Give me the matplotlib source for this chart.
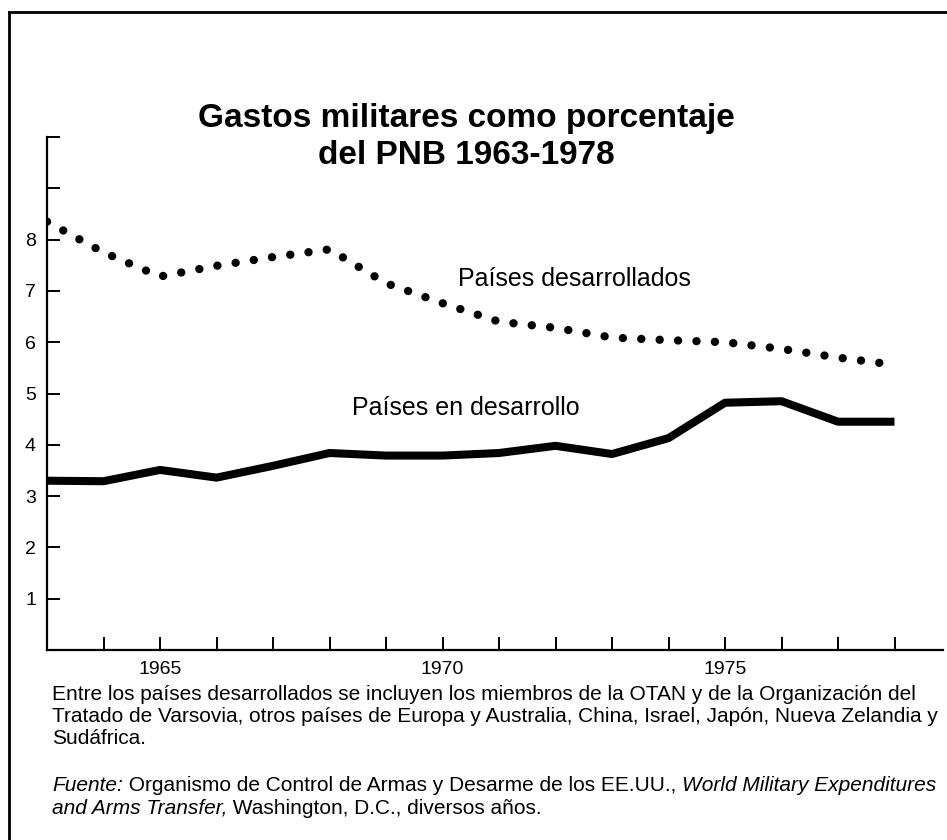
import numpy as np
import matplotlib
matplotlib.use("Agg")
import matplotlib.pyplot as plt
from matplotlib.lines import Line2D

plt.rcParams['font.family'] = ['Liberation Sans', 'DejaVu Sans']

# datos (porcentaje del PNB)
years = np.arange(1963, 1979)
desarrollados = [8.35, 7.75, 7.28, 7.49, 7.66, 7.81, 7.15, 6.76,
                 6.40, 6.28, 6.09, 6.04, 6.00, 5.87, 5.70, 5.56]
en_desarrollo = [3.30, 3.29, 3.51, 3.36, 3.59, 3.84, 3.79, 3.79,
                 3.84, 3.98, 3.82, 4.13, 4.82, 4.85, 4.45, 4.45]
year_ticks = list(range(1964, 1979))
year_labels = ['1965', '1970', '1975']
y_ticks = list(range(1, 11))
y_labels = ['1', '2', '3', '4', '5', '6', '7', '8', '', '']

fig = plt.figure(figsize=(9.47, 8.4), dpi=100)
ax = fig.add_axes([47/947, 1 - 650/840, (943 - 47)/947, (650 - 137)/840])

ax.plot(years, desarrollados, color='black', lw=6.0,
        linestyle=(0, (0.01, 2.2)), dash_capstyle='round')
ax.plot(years, en_desarrollo, color='black', lw=5.8, solid_joinstyle='round',
        solid_capstyle='butt')

ax.set_xlim(1963, 1963 + (943 - 47)/56.5)
ax.set_ylim(0, 10)
for s in ['top', 'right']:
    ax.spines[s].set_visible(False)
for s in ['left', 'bottom']:
    ax.spines[s].set_linewidth(1.6)

ax.set_xticks(year_ticks)
ax.set_xticklabels([str(y) if str(y) in year_labels else '' for y in year_ticks])
ax.set_yticks(y_ticks)
ax.set_yticklabels(y_labels)
ax.tick_params(axis='both', direction='in', length=9.5, width=1.4, labelsize=14)
ax.tick_params(axis='x', pad=8)
ax.tick_params(axis='y', pad=8)

ax.text(1970.27, 7.10, 'Países desarrollados', fontsize=18, va='baseline')
ax.text(1968.4, 4.58, 'Países en desarrollo', fontsize=18, va='baseline')

fig.text(466/947, 1 - 137/840, 'Gastos militares como porcentaje\ndel PNB 1963-1978',
         ha='center', va='center', fontsize=24, fontweight='bold', linespacing=1.29)

# nota al pie
x0 = 52/947
fs = 15
fig.text(x0, 1 - 700/840, 'Entre los países desarrollados se incluyen los miembros de la OTAN y de la Organización del',
         fontsize=fs, va='baseline')
fig.text(x0, 1 - 722/840, 'Tratado de Varsovia, otros países de Europa y Australia, China, Israel, Japón, Nueva Zelandia y',
         fontsize=fs, va='baseline')
fig.text(x0, 1 - 744/840, 'Sudáfrica.', fontsize=fs, va='baseline')


def segments(y, parts):
    prev = None
    for txt, style in parts:
        if prev is None:
            prev = fig.text(x0, y, txt, fontsize=fs, style=style, va='baseline')
        else:
            prev = ax.annotate(txt, xy=(1, 0), xycoords=prev, fontsize=fs,
                               style=style, va='bottom', ha='left',
                               annotation_clip=False)


segments(1 - 791/840, [('Fuente:', 'italic'),
                       (' Organismo de Control de Armas y Desarme de los EE.UU., ', 'normal'),
                       ('World Military Expenditures', 'italic')])
segments(1 - 814/840, [('and Arms Transfer,', 'italic'),
                       (' Washington, D.C., diversos años.', 'normal')])

# marco
fig.add_artist(Line2D([9/947, 1], [1 - 12/840, 1 - 12/840], color='black', lw=2))
fig.add_artist(Line2D([9/947, 9/947], [0, 1 - 12/840], color='black', lw=2))

fig.savefig('out.png', dpi=100)
